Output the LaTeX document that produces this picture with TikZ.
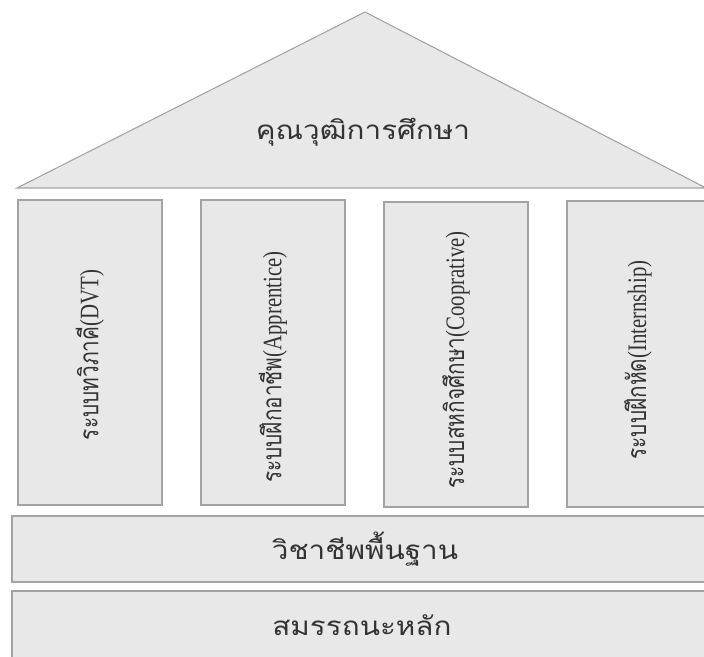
\documentclass[tikz,border=0pt]{standalone}
\usepackage{fontspec}
\setmainfont{Liberation Serif}
\newfontfamily\thaifont[Script=Thai]{Loma}
\definecolor{boxfill}{HTML}{E8E8E8}
\definecolor{boxline}{HTML}{A3A3A3}
\tikzset{
  part/.style={fill=boxfill, draw=boxline, line width=0.9pt},
  roof/.style={fill=boxfill, draw=boxline, line width=0.8pt, line join=miter},
  flat/.style={font=\thaifont\fontsize{19.5}{23}\selectfont, text=black!80},
  vert/.style={rotate=90, text=black!80, font=\fontsize{20}{24}\selectfont},
}
\newcommand{\vtext}[2]{\scalebox{0.78}[1]{{\thaifont #1}#2}}
\newcommand{\htext}[1]{\scalebox{1.14}[1]{#1}}
\begin{document}
\begin{tikzpicture}[x=0.75pt,y=-0.75pt]
\useasboundingbox (0,0) rectangle (704,657);
\fill[white] (0,0) rectangle (704,657);
% roof
\draw[roof] (365,12) -- (17,188) -- (706,188) -- cycle;
\node[flat] (roofT) at (363,132) {\htext{คุณวุฒิการศึกษา}};
% pillars
\draw[part] (18,200) rectangle (162,505);
\draw[part] (201,200) rectangle (345,505);
\draw[part] (384,202) rectangle (528,507);
\draw[part] (567,201) rectangle (712,507);
\node[vert] (p1) at (90,355) {\vtext{ระบบทวิภาคี}{(DVT)}};
\node[vert] (p2) at (273,367) {\vtext{ระบบฝึกอาชีพ}{(Apprentice)}};
\node[vert] (p3) at (456,360) {\vtext{ระบบสหกิจศึกษา}{(Cooprative)}};
\node[vert] (p4) at (638,360) {\vtext{ระบบฝึกหัด}{(Internship)}};
% base
\draw[part] (12,516) rectangle (712,582);
\node[flat] (b1) at (365,549) {\htext{วิชาชีพพื้นฐาน}};
\draw[part] (12,591) rectangle (712,665);
\node[flat] (b2) at (362,625) {\htext{สมรรถนะหลัก}};
\end{tikzpicture}
\end{document}
